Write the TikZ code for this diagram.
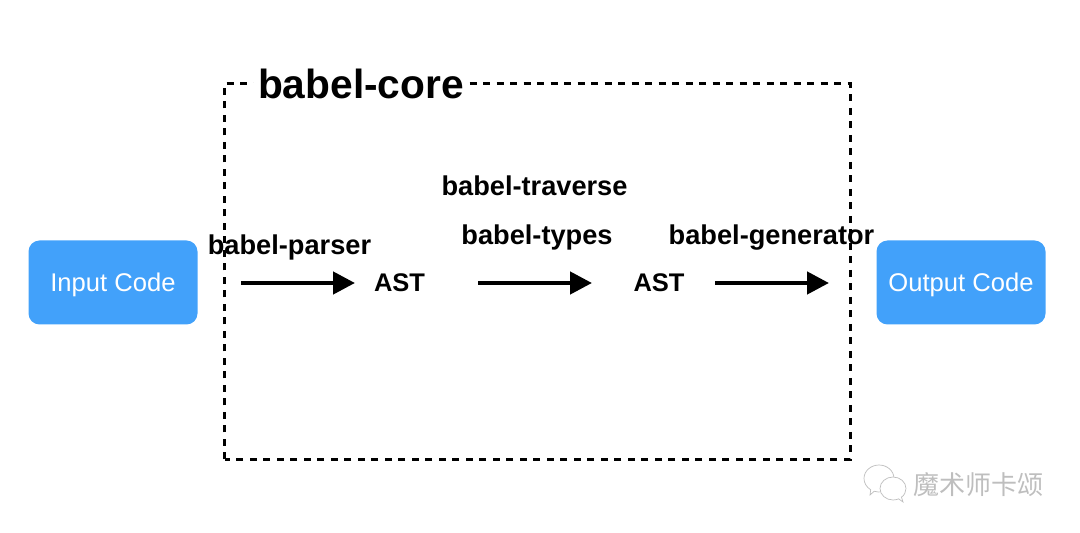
\documentclass[tikz,border=0pt]{standalone}
\usepackage{fontspec}
\setmainfont{Liberation Sans}
\newfontfamily\cjkfont{Noto Sans CJK SC}
\usetikzlibrary{arrows.meta, positioning, shapes.callouts}
\definecolor{codeblue}{RGB}{66,161,250}
\definecolor{markgray}{RGB}{190,190,190}
\tikzset{
  codeblock/.style={rectangle, rounded corners=11pt, fill=codeblue, text=white,
    minimum width=169pt, minimum height=84pt, inner sep=0pt, text height=19pt, text depth=0pt,
    font=\fontsize{25.6}{28}\selectfont},
  steplabel/.style={inner sep=0pt, font=\fontsize{27.2}{30}\selectfont\bfseries},
  astlabel/.style={inner sep=0pt, font=\fontsize{25.5}{30}\selectfont\bfseries},
  arrow/.style={-{Triangle[length=22pt, width=22pt]}, line width=4.5pt, black},
  dashbox/.style={draw=black, line width=3pt, dash pattern=on 7pt off 6.5pt},
  bubble/.style={draw=markgray, line width=0.7pt, fill=white, ellipse callout, inner sep=0pt},
}
\begin{document}
\begin{tikzpicture}[x=1pt, y=1pt]
  \useasboundingbox (0,0) rectangle (1080,533);

  \coordinate (boxsw) at (224.5,73.5);
  \coordinate (boxne) at (850,449.5);
  \draw[dashbox] (boxsw) rectangle (boxne);

  \node[rectangle, fill=white, inner sep=0pt, minimum width=214pt, minimum height=50pt,
        font=\fontsize{40.7}{44}\selectfont\bfseries]
    (core) at (361,449) {babel-core};

  \node[codeblock] (input) at (113,250.5) {Input Code};
  \node[codeblock] (output) at (961,250.5) {Output Code};

  \node[astlabel] (ast1) at (399.5,250) {AST};
  \node[astlabel] (ast2) at (659,250) {AST};

  \coordinate (a1s) at (241,250);
  \coordinate (a1e) at (355,250);
  \coordinate (a2s) at (478,250);
  \coordinate (a2e) at (592,250);
  \coordinate (a3s) at (715,250);
  \coordinate (a3e) at (829,250);
  \draw[arrow] (a1s) -- (a1e);
  \draw[arrow] (a2s) -- (a2e);
  \draw[arrow] (a3s) -- (a3e);

  \node[steplabel] (parser) at (289.5,286) {babel-parser};
  \node[steplabel] (types) at (537,296) {babel-types};
  \node[steplabel] (traverse) at (534.5,347) {babel-traverse};
  \node[steplabel] (generator) at (771.5,295) {babel-generator};

  % watermark
  \node[bubble, minimum width=30pt, minimum height=27pt,
        callout absolute pointer={(870,38)}] (chat1) at (879,54.5) {};
  \node[bubble, minimum width=26pt, minimum height=23pt,
        callout absolute pointer={(903,31)}] (chat2) at (893,44.5) {};
  \node[inner sep=0pt, text=markgray, font=\fontsize{26}{28}\selectfont\cjkfont, yshift=3.5pt]
    (mark) [right=7pt of chat2] {魔术师卡颂};
\end{tikzpicture}
\end{document}
